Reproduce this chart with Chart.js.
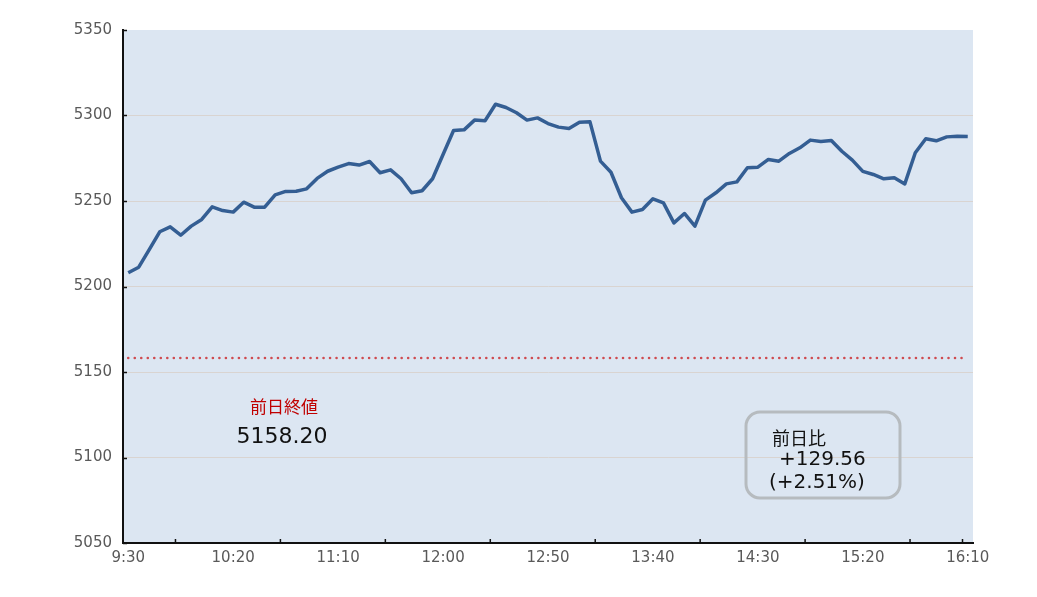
<!DOCTYPE html>
<html lang="ja">
<head>
<meta charset="utf-8">
<title>指数 日中推移</title>
<script src="https://cdn.jsdelivr.net/npm/chart.js@4"></script>
<style>
  html, body { margin: 0; padding: 0; background: #fff; }
  canvas { display: block; }
</style>
</head>
<body>
<canvas id="chart" width="1037" height="597"></canvas>
<script>
// ── Data ─────────────────────────────────────────────────────────────────────
const TIMES = [
  "9:30", "9:35", "9:40", "9:45", "9:50", "9:55",
  "10:00", "10:05", "10:10", "10:15", "10:20", "10:25", "10:30", "10:35", "10:40", "10:45", "10:50", "10:55",
  "11:00", "11:05", "11:10", "11:15", "11:20", "11:25", "11:30", "11:35", "11:40", "11:45", "11:50", "11:55",
  "12:00", "12:05", "12:10", "12:15", "12:20", "12:25", "12:30", "12:35", "12:40", "12:45", "12:50", "12:55",
  "13:00", "13:05", "13:10", "13:15", "13:20", "13:25", "13:30", "13:35", "13:40", "13:45", "13:50", "13:55",
  "14:00", "14:05", "14:10", "14:15", "14:20", "14:25", "14:30", "14:35", "14:40", "14:45", "14:50", "14:55",
  "15:00", "15:05", "15:10", "15:15", "15:20", "15:25", "15:30", "15:35", "15:40", "15:45", "15:50", "15:55",
  "16:00", "16:05", "16:10",
];

const PRICES = [
  5208.0, 5211.3, 5221.6, 5232.0, 5234.9, 5230.0, 5235.3, 5239.2, 5246.6, 5244.4,
  5243.5, 5249.3, 5246.4, 5246.4, 5253.6, 5255.6, 5255.7, 5257.1, 5263.2, 5267.4,
  5269.8, 5271.9, 5271.0, 5273.1, 5266.5, 5268.2, 5263.0, 5254.8, 5256.0, 5263.0,
  5277.2, 5291.2, 5291.6, 5297.3, 5296.9, 5306.6, 5304.7, 5301.6, 5297.3, 5298.6,
  5295.3, 5293.2, 5292.4, 5296.1, 5296.3, 5273.3, 5266.8, 5251.9, 5243.5, 5245.0,
  5251.3, 5248.9, 5237.2, 5242.7, 5235.3, 5250.5, 5254.8, 5260.0, 5261.2, 5269.4,
  5269.8, 5274.3, 5273.3, 5277.8, 5281.1, 5285.6, 5284.8, 5285.4, 5279.1, 5273.9,
  5267.3, 5265.5, 5263.0, 5263.6, 5260.0, 5278.2, 5286.4, 5285.2, 5287.5, 5287.9,
  5287.76,
];

const PREV_CLOSE = 5158.20;
const CHANGE_TEXT = ["前日比", "+129.56", "(+2.51%)"];
const PREV_LABEL = "前日終値";
const PREV_TEXT = "5158.20";

const Y_MIN = 5050, Y_MAX = 5350, Y_STEP = 50;
const LABEL_EVERY = 10; // one time label every 50 min

// ── Plugins ──────────────────────────────────────────────────────────────────
const plotBackground = {
  id: "plotBackground",
  beforeDraw(chart) {
    const { ctx, chartArea: a } = chart;
    ctx.save();
    ctx.fillStyle = "#dce6f2";
    ctx.fillRect(a.left, a.top, a.right - a.left, a.bottom - a.top);
    ctx.restore();
  },
};

// short tick marks pointing into the plot, like the original
const innerTicks = {
  id: "innerTicks",
  afterDraw(chart) {
    const { ctx, chartArea: a, scales } = chart;
    ctx.save();
    ctx.strokeStyle = "#111";
    ctx.lineWidth = 1.5;
    ctx.beginPath();
    for (const t of scales.y.ticks) {
      const y = Math.round(scales.y.getPixelForValue(t.value)) + 0.5;
      ctx.moveTo(a.left, y);
      ctx.lineTo(a.left + 4, y);
    }
    const n = TIMES.length;
    for (let k = 1; k < n; k++) {
      if (k % LABEL_EVERY !== 5 && k !== n - 1) continue;
      const x = (scales.x.getPixelForValue(k - 1) + scales.x.getPixelForValue(k)) / 2;
      ctx.moveTo(x, a.bottom);
      ctx.lineTo(x, a.bottom - 4);
    }
    ctx.stroke();
    ctx.restore();
  },
};

const notes = {
  id: "notes",
  afterDraw(chart) {
    const { ctx } = chart;
    ctx.save();
    ctx.textBaseline = "middle";

    // previous close
    ctx.textAlign = "center";
    ctx.fillStyle = "#c00000";
    ctx.font = '17px "Noto Sans CJK JP"';
    ctx.fillText(PREV_LABEL, 284, 407);
    ctx.fillStyle = "#111";
    ctx.font = '22px "DejaVu Sans"';
    ctx.fillText(PREV_TEXT, 282, 437);

    // change box
    ctx.strokeStyle = "#b6bbbf";
    ctx.lineWidth = 3;
    ctx.beginPath();
    ctx.roundRect(746, 412, 154, 86, 14);
    ctx.stroke();

    ctx.textAlign = "left";
    ctx.fillStyle = "#111";
    ctx.font = '18px "Noto Sans CJK JP"';
    ctx.fillText(CHANGE_TEXT[0], 772, 438);
    ctx.font = '20px "DejaVu Sans"';
    ctx.fillText(CHANGE_TEXT[1], 779, 460);
    ctx.fillText(CHANGE_TEXT[2], 769, 483);
    ctx.restore();
  },
};

// ── Chart ────────────────────────────────────────────────────────────────────
const axisFont = { family: "DejaVu Sans", size: 15 };

new Chart(document.getElementById("chart"), {
  type: "line",
  data: {
    labels: TIMES,
    datasets: [
      {
        data: PRICES,
        borderColor: "#345e93",
        borderWidth: 3.5,
        borderJoinStyle: "round",
        pointRadius: 0,
        tension: 0,
        order: 0,
      },
      {
        data: TIMES.map(() => PREV_CLOSE),
        borderColor: "#cf4b50",
        borderWidth: 2.6,
        borderDash: [0.01, 6.5],
        borderCapStyle: "round",
        pointRadius: 0,
        order: 1,
      },
    ],
  },
  options: {
    responsive: false,
    animation: false,
    devicePixelRatio: 1,
    layout: { padding: { top: 30, right: 64, bottom: 0, left: 0 } },
    plugins: { legend: { display: false }, tooltip: { enabled: false } },
    scales: {
      x: {
        type: "category",
        offset: true,
        afterFit: (s) => { s.height = 54; },
        grid: { display: true, drawOnChartArea: false, drawTicks: false },
        border: { display: true, color: "#111", width: 2 },
        ticks: {
          autoSkip: false,
          maxRotation: 0,
          padding: 6,
          color: "#595959",
          font: axisFont,
          callback(value, index) {
            return index % LABEL_EVERY === 0 ? this.getLabelForValue(value) : "";
          },
        },
      },
      y: {
        min: Y_MIN,
        max: Y_MAX,
        afterFit: (s) => { s.width = 123; },
        grid: {
          drawTicks: false,
          color: (c) => (c.tick && (c.tick.value === Y_MAX || c.tick.value === Y_MIN) ? "rgba(0,0,0,0)" : "#d9d4d1"),
          lineWidth: 1,
        },
        border: { display: true, color: "#111", width: 2 },
        ticks: {
          stepSize: Y_STEP,
          padding: 11,
          color: "#595959",
          font: axisFont,
          callback: (v) => String(v),
        },
      },
    },
  },
  plugins: [plotBackground, innerTicks, notes],
});
</script>
</body>
</html>
